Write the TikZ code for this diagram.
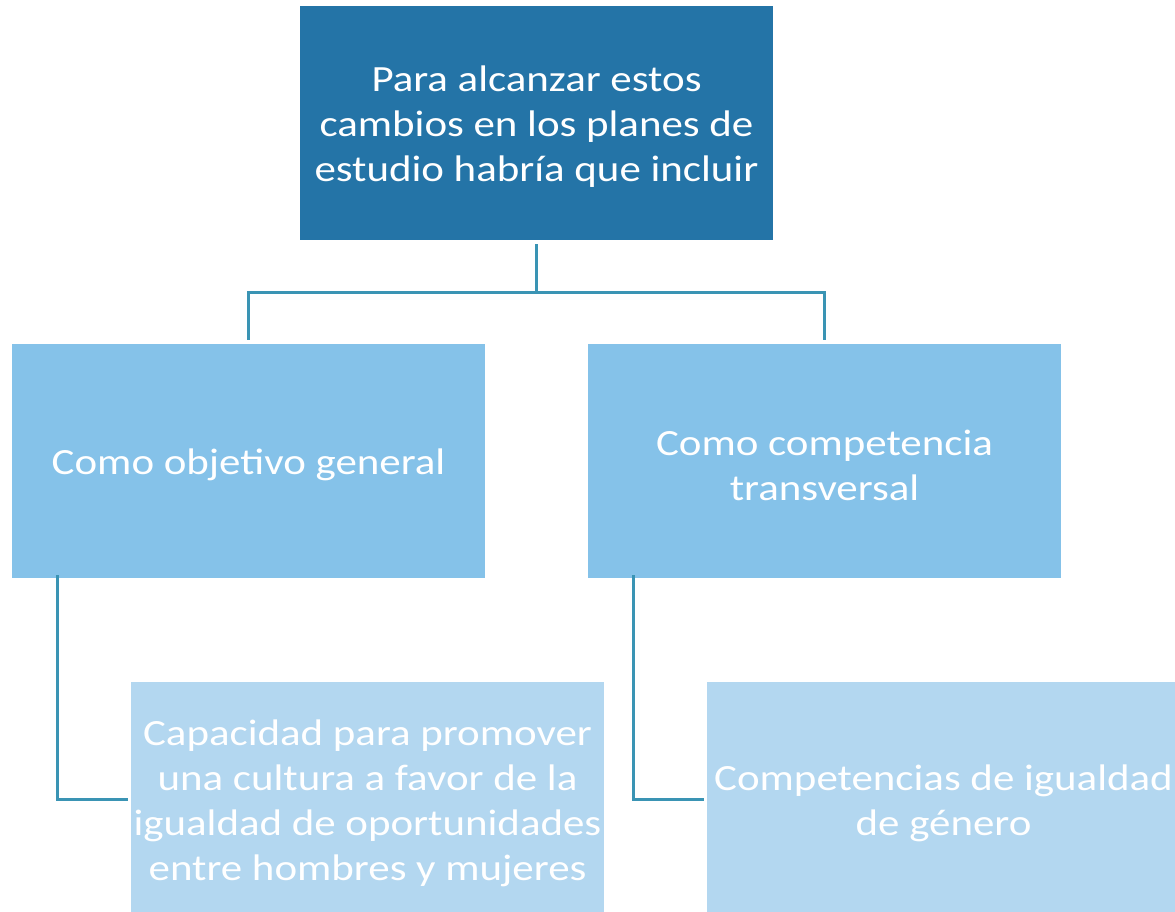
\documentclass[tikz,border=0pt]{standalone}
\usepackage{fontspec}
\setmainfont{Carlito}[FakeStretch=1.16]
\definecolor{topblue}{RGB}{36,116,167}
\definecolor{midblue}{RGB}{133,194,233}
\definecolor{lowblue}{RGB}{179,215,240}
\definecolor{connc}{RGB}{58,148,180}
\tikzset{
  box/.style={rectangle, inner sep=0pt, minimum width=473pt, minimum height=234pt},
  txt/.style={inner sep=0pt, text=white, align=center, font=\fontsize{37}{45}\selectfont},
  conn/.style={draw=connc, line width=3pt}
}
\begin{document}
\begin{tikzpicture}[x=1pt,y=-1pt]
\useasboundingbox (0,0) rectangle (1175,912);
\clip (0,0) rectangle (1175,912);
\node[box, fill=topblue] (top) at (536.5,123) {};
\node[box, fill=midblue] (lmid) at (248.5,461) {};
\node[box, fill=midblue] (rmid) at (824.5,461) {};
\node[box, fill=lowblue] (lbot) at (367.5,799) {};
\node[box, fill=lowblue] (rbot) at (943.5,799) {};
\node[txt] (topt) at ([yshift=-4pt]top.center) {Para alcanzar estos\\cambios en los planes de\\estudio habría que incluir};
\node[txt] (lmidt) at ([yshift=-4pt]lmid.center) {Como objetivo general};
\node[txt] (rmidt) at ([yshift=-4pt]rmid.center) {Como competencia\\transversal};
\node[txt] (lbott) at ([yshift=-4pt]lbot.center) {Capacidad para promover\\una cultura a favor de la\\igualdad de oportunidades\\entre hombres y mujeres};
\node[txt] (rbott) at ([yshift=-4pt]rbot.center) {Competencias de igualdad\\de género};
\coordinate (j) at (536.5,292);
\draw[conn, shorten <=4pt, shorten >=4pt] (top.south) -- (j) -| (lmid.north);
\draw[conn, shorten >=4pt] (j) -| (rmid.north);
\draw[conn] ([xshift=46pt,yshift=3pt]lmid.south west) |- ([xshift=-3pt]lbot.west);
\draw[conn] ([xshift=46pt,yshift=3pt]rmid.south west) |- ([xshift=-3pt]rbot.west);
\end{tikzpicture}
\end{document}
